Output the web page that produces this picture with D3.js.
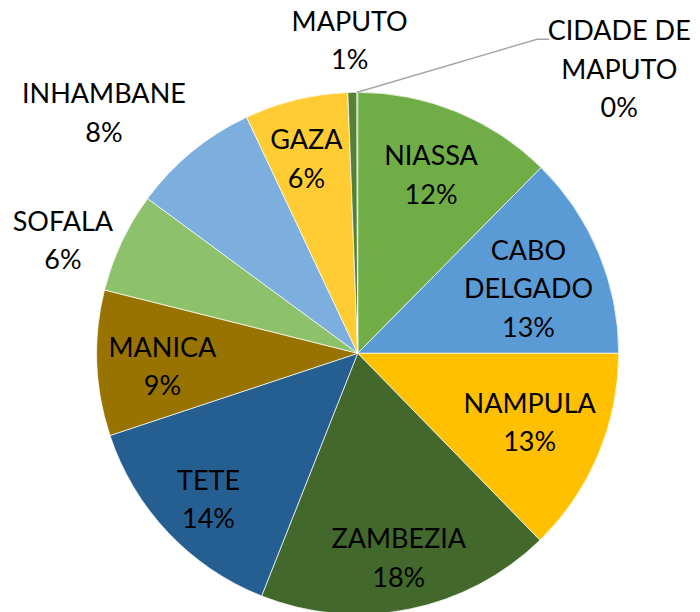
<!DOCTYPE html>
<html>
<head>
<meta charset="utf-8">
<script src="https://cdn.jsdelivr.net/npm/d3@7"></script>
<style>
  html, body { margin: 0; padding: 0; background: #fff; }
  svg { display: block; }
</style>
</head>
<body>
<div id="chart"></div>
<script>
// ---- Data ----
const categories = ["NIASSA", "CABO DELGADO", "NAMPULA", "ZAMBEZIA", "TETE", "MANICA",
                    "SOFALA", "INHAMBANE", "GAZA", "MAPUTO", "CIDADE DE MAPUTO"];
const values = [12.4, 12.6, 12.7, 18.3, 13.9, 9.0, 6.2, 7.9, 6.4, 0.55, 0.05];
const labelLines = [["NIASSA"], ["CABO", "DELGADO"], ["NAMPULA"], ["ZAMBEZIA"], ["TETE"], ["MANICA"],
                    ["SOFALA"], ["INHAMBANE"], ["GAZA"], ["MAPUTO"], ["CIDADE DE", "MAPUTO"]];
const colors = ["#70AD47", "#5B9BD5", "#FFC000", "#43682B", "#255E91", "#997300",
                "#8DC16B", "#7CAFDD", "#FFCD33", "#548235", "#1F4E79"];

// ---- Layout (label placement: radius factor, angular offset in degrees) ----
const labelLayout = [
  {r: 0.74, da: 0}, {r: 0.70, da: 1.9}, {r: 0.71, da: -1}, {r: 0.80, da: 0},
  {r: 0.80, da: -1}, {r: 0.75, da: -1.6}, {r: 1.21, da: -4.2}, {r: 1.34, da: -7.1},
  {r: 0.77, da: -1.1}, {r: 1.20, da: -0.3}, {r: 1.48, da: 42.7, leader: true}
];

const W = 700, H = 612;
const cx = 357.7, cy = 353.3, R = 261;
const fontSize = 27, lineH = 38.5;
const fontFamily = "Lato, 'Liberation Sans', sans-serif";

const svg = d3.select("#chart").append("svg").attr("width", W).attr("height", H);
const g = svg.append("g").attr("transform", `translate(${cx},${cy})`);

const total = d3.sum(values);
const pie = d3.pie().sort(null).value(d => d)(values);
const arc = d3.arc().innerRadius(0).outerRadius(R);

g.selectAll("path.slice").data(pie).join("path")
  .attr("class", "slice")
  .attr("d", arc)
  .attr("fill", (d, i) => colors[i])
  .attr("stroke", "#fff")
  .attr("stroke-width", 0.7);

const polar = (a, r) => [r * Math.sin(a), -r * Math.cos(a)];

pie.forEach((d, i) => {
  const L = labelLayout[i];
  const mid = (d.startAngle + d.endAngle) / 2;
  const a = mid + L.da * Math.PI / 180;
  const [lx, ly] = polar(a, L.r * R);
  const pct = Math.round(values[i] / total * 100) + "%";
  const lines = labelLines[i].concat([pct]);
  const n = lines.length;

  if (L.leader) {
    const [sx, sy] = polar(mid, R);
    const endY = ly - (n - 1) / 2 * lineH + 8.7;
    g.append("polyline")
      .attr("points", [[sx, sy], [lx - 82, endY], [lx - 70, endY]].map(p => p.join(",")).join(" "))
      .attr("fill", "none")
      .attr("stroke", "#A6A6A6")
      .attr("stroke-width", 1.5);
  }

  const t = g.append("text")
    .attr("text-anchor", "middle")
    .attr("font-family", fontFamily)
    .attr("font-size", fontSize)
    .attr("fill", "#000");
  lines.forEach((s, k) => {
    t.append("tspan")
      .attr("x", lx)
      .attr("y", ly + (k - (n - 1) / 2) * lineH + 0.36 * fontSize)
      .text(s);
  });
});
</script>
</body>
</html>
